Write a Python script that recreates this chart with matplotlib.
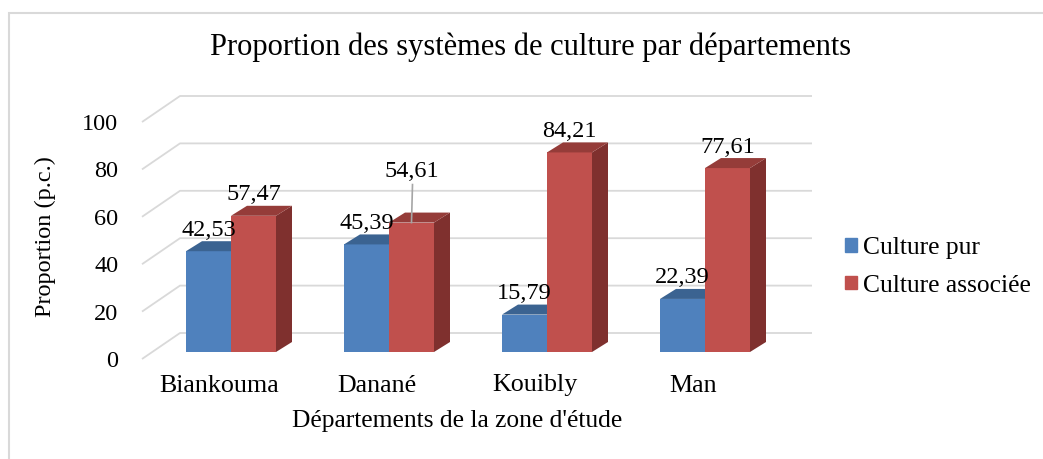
import matplotlib.pyplot as plt
from matplotlib.patches import Polygon, Patch, Rectangle

# Proportion des systèmes de culture par département (3D-style grouped bars)

departements = ['Biankouma', 'Danané', 'Kouibly', 'Man']
culture_pur = [42.53, 45.39, 15.79, 22.39]
culture_associee = [57.47, 54.61, 84.21, 77.61]
series_names = ['Culture pur', 'Culture associée']
y_ticks = [0, 20, 40, 60, 80, 100]

plt.rcParams['font.family'] = ['Liberation Serif', 'DejaVu Serif']

W, H = 1043, 459
fig = plt.figure(figsize=(W / 100, H / 100), dpi=100)

# plot box in pixels
L, T, R, B = 130, 85, 820, 362
ax = fig.add_axes([L / W, 1 - B / H, (R - L) / W, (B - T) / H])

# one category = 158 px, one percent = 2.37 px
px = 1 / 158
py = 1 / 2.37
x0, y0 = 231, 352
ax.set_xlim((L - x0) * px, (R - x0) * px)
ax.set_ylim((y0 - B) * py, (y0 - T) * py)

# depth offsets (data units): floor front edge, back wall, bar depth
fx, fy = -10 * px, -7 * py
bx, by = 28 * px, 19 * py
dx, dy = 16 * px, 10 * py

n = len(departements)
grid_c = '#d9d9d9'
for v in y_ticks:
    ax.plot([-0.5 + fx, -0.5 + bx, n - 0.5 + bx], [v + fy, v + by, v + by],
            color=grid_c, lw=1.3, zorder=0, solid_capstyle='butt')

w = 45 * px
colors = [('#4F81BD', '#3B6391', '#345A87'),
          ('#C0504D', '#953C39', '#7F302E')]

# labels pushed up with a leader line: (category, series) -> extra px
moved_labels = {(1, 1): 30}

for i in range(n):
    for s, vals in enumerate([culture_pur, culture_associee]):
        v = vals[i]
        front, top, side = colors[s]
        xl = i - w + s * w
        xr = xl + w
        z = 2 + s * 3
        ax.add_patch(Polygon([(xr, 0), (xr + dx, dy), (xr + dx, v + dy), (xr, v)],
                             closed=True, fc=side, ec='none', zorder=z))
        ax.bar(xl, v, width=w, align='edge', color=front, zorder=z + 1)
        ax.add_patch(Polygon([(xl, v), (xr, v), (xr + dx, v + dy), (xl + dx, v + dy)],
                             closed=True, fc=top, ec='none', zorder=z + 2))
        cx = (xl + xr) / 2
        extra = moved_labels.get((i, s), 0)
        ly = v + (21 + extra) * py
        if extra:
            ax.plot([cx, cx + 1 * px], [v, ly - 13 * py], color='#a6a6a6',
                    lw=1.2, zorder=10)
        ax.text(cx, ly, f'{v:.2f}'.replace('.', ','), ha='center', va='center',
                fontsize=17.5, zorder=11)

ax.set_yticks([v + fy for v in y_ticks], [str(v) for v in y_ticks])
ax.set_xticks([i - 12 * px for i in range(n)], departements)
ax.tick_params(axis='y', length=0, pad=8.5, labelsize=17.5)
ax.tick_params(axis='x', length=0, pad=9, labelsize=18.7)
for sp in ax.spines.values():
    sp.set_visible(False)
ax.patch.set_visible(False)

fig.text(531 / W, 1 - 47 / H, 'Proportion des systèmes de culture par départements',
         ha='center', va='center', fontsize=22)
fig.text(457 / W, 1 - 421 / H, "Départements de la zone d'étude",
         ha='center', va='center', fontsize=18.4)
fig.text(45 / W, 1 - 237 / H, 'Proportion (p.c.)', rotation=90,
         ha='center', va='center', fontsize=17.5)

handles = [Patch(color=colors[k][0], label=series_names[k]) for k in range(2)]
fig.legend(handles=handles, loc='center left', bbox_to_anchor=(845 / W, 1 - 267 / H),
           frameon=False, fontsize=18.4, handlelength=0.45, handleheight=0.45,
           handletextpad=0.25, labelspacing=0.6, borderaxespad=0, borderpad=0)

# outer chart border
fig.add_artist(Rectangle((9 / W, -0.05), 1.05, 1 - 13 / H + 0.05,
                         transform=fig.transFigure, fill=False,
                         ec='#d9d9d9', lw=1.5))

fig.savefig('out.png', dpi=100)
